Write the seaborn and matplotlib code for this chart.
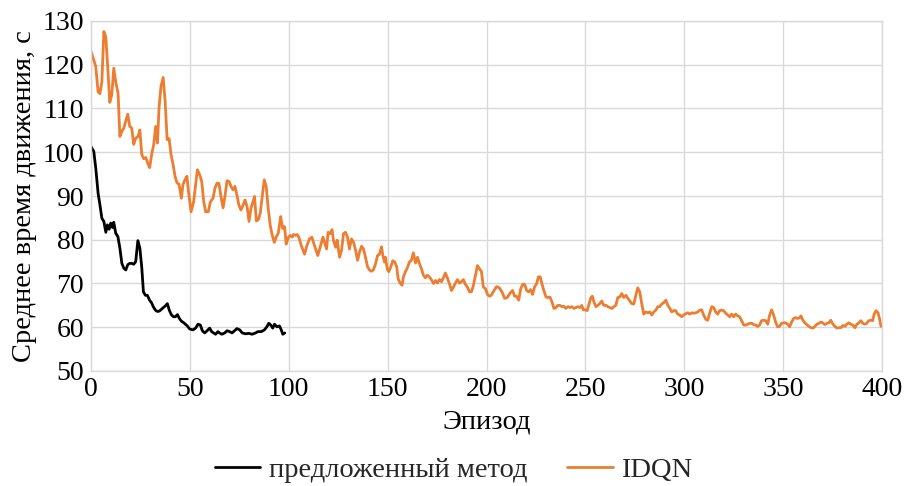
import matplotlib
matplotlib.use("Agg")
import matplotlib.pyplot as plt
import pandas as pd
import seaborn as sns

# ---------------- data ----------------
idqn_ep = [
    0, 2.4, 3.6, 4.5, 5.5, 6.5, 7.5, 8.7, 9.5, 10.5,
    11.5, 12.5, 13.7, 14.6, 15.6, 16.6, 17.6, 18.6, 19.6, 20.6,
    21.6, 22.6, 23.8, 24.7, 25.7, 26.7, 27.7, 28.7, 29.7, 30.7,
    31.7, 32.7, 33.6, 34.4, 35.4, 36.5, 37.5, 38.5, 39.5, 40.5,
    41.5, 42.5, 43.5, 44.5, 45.7, 46.5, 47.5, 48.5, 49.3, 50.6,
    51.9, 52.9, 53.8, 55, 56, 57, 58, 59.3, 60.4, 61.7,
    62.7, 63.7, 64.7, 65.7, 66.8, 67.8, 68.8, 69.8, 70.8, 71.8,
    72.8, 73.8, 74.8, 75.8, 76.9, 77.9, 78.9, 79.9, 80.9, 81.9,
    82.7, 83.6, 84.6, 85.6, 86.6, 87.6, 88.6, 89.6, 90.6, 91.6,
    92.7, 93.7, 94.7, 95.9, 96.9, 97.9, 98.7, 99.7, 100.8, 101.8,
    102.4, 103.5, 104.3, 105.1, 106.3, 108.0, 109.2, 110.5, 111.7, 113.0,
    114.7, 116.1, 117.3, 118.1, 119.1, 119.9, 120.9, 121.9, 122.6, 123.7,
    124.5, 125.7, 126.7, 127.7, 128.7, 129.7, 130.7, 131.7, 132.8, 133.8,
    134.8, 135.8, 136.8, 137.8, 138.8, 139.8, 140.8, 141.8, 142.8, 143.9,
    144.9, 145.9, 146.9, 147.6, 148.4, 148.9, 149.8, 150.6, 151.6, 152.6,
    153.6, 154.6, 155.3, 156.3, 157.3, 158.0, 159.0, 160.0, 161.0, 162.0,
    163.0, 164.1, 165.1, 166.1, 167.1, 168.1, 169.1, 170.1, 171.1, 172.1,
    173.2, 174.2, 175.2, 176.2, 177.2, 178.2, 179.2, 180.2, 181.2, 182.3,
    183.3, 184.3, 185.3, 186.3, 187.3, 188.3, 189.3, 190.3, 191.4, 192.4,
    193.4, 194.4, 195.4, 196.4, 197.4, 198.4, 199.5, 200.5, 201.5, 202.4,
    203.8, 205.1, 206.5, 207.8, 209.2, 210.5, 211.9, 213.2, 214.2, 215.2,
    216.3, 217.3, 218.3, 219.3, 220.3, 221.3, 222.3, 223.3, 224.3, 225.4,
    226.2, 227.2, 228.0, 229.0, 230.1, 231.1, 232.1, 233.1, 234.1, 235.1,
    236.1, 237.1, 238.1, 239.1, 240.1, 241.2, 242.2, 243.2, 244.2, 245.2,
    246.2, 247.2, 248.2, 248.9, 249.9, 250.9, 251.9, 252.8, 253.5, 254.3,
    255.3, 256.3, 257.3, 258.3, 259.3, 260.4, 261.4, 262.4, 263.4, 264.4,
    265.4, 266.4, 267.4, 268.4, 269.4, 270.5, 271.5, 272.5, 273.5, 274.5,
    275.5, 276.5, 277.5, 278.5, 279.5, 280.6, 281.6, 282.6, 283.6, 284.6,
    285.6, 286.6, 287.6, 288.6, 289.6, 290.7, 291.7, 292.7, 293.7, 294.7,
    295.7, 296.7, 297.7, 298.7, 299.7, 300.8, 301.8, 302.8, 303.8, 304.8,
    305.8, 306.8, 307.8, 308.8, 309.8, 310.9, 311.9, 312.9, 313.9, 314.9,
    315.9, 316.9, 317.9, 318.9, 319.9, 321.0, 322.0, 323.0, 324.0, 325.0,
    326.0, 327.0, 328.0, 329.0, 330.1, 331.1, 332.1, 333.1, 334.1, 335.1,
    336.1, 337.1, 338.1, 339.1, 340.1, 341.2, 342.2, 343.2, 344.2, 345.2,
    346.2, 347.2, 348.2, 349.2, 350.3, 351.3, 352.3, 353.3, 354.3, 355.3,
    356.3, 357.3, 358.3, 359.0, 360.0, 361.0, 362.0, 363.0, 364.1, 365.1,
    366.1, 367.1, 368.1, 369.1, 370.1, 371.1, 372.1, 373.1, 374.1, 375.2,
    376.2, 377.2, 378.2, 379.2, 380.2, 381.2, 382.2, 383.2, 384.2, 385.3,
    386.3, 387.3, 388.3, 389.3, 390.3, 391.3, 392.3, 393.3, 394.3, 395.3,
    396.0, 397.0, 398.0, 398.7, 399.5,
]
idqn_val = [
    123.1, 119.6, 113.8, 113.4, 116.1, 127.6, 126.4, 117.7, 111.4, 113.1,
    119.2, 116.1, 113.4, 103.6, 104.8, 105.5, 107.2, 108.7, 105.9, 105.5,
    101.8, 103.2, 103.6, 105.1, 99.4, 98.5, 98.8, 97.5, 96.5, 99.6,
    101.7, 105.9, 102.1, 110.1, 115.1, 117.1, 111.6, 102.9, 103.1, 99.4,
    97.2, 94.5, 93.0, 92.7, 89.5, 92.6, 93.7, 94.5, 91.0, 86.4,
    88.7, 92.6, 96.0, 94.8, 93.3, 88.7, 86.4, 86.4, 88.7, 89.5,
    91.8, 92.9, 92.9, 89.9, 87.3, 90.2, 93.5, 93.3, 92.2, 91.4,
    92.2, 90.2, 87.9, 86.8, 87.9, 89.1, 87.6, 84.2, 87.2, 88.7,
    89.9, 84.3, 84.6, 86.1, 89.9, 93.7, 92.2, 87.2, 83.4, 81.1,
    79.4, 80.7, 81.5, 85.3, 82.6, 83.0, 79.0, 80.5, 81.0, 80.6,
    81.2, 81.0, 81.2, 80.6, 78.7, 76.7, 78.7, 80.2, 80.6, 78.7,
    76.4, 78.7, 80.6, 79.4, 77.9, 81.7, 81.4, 82.3, 79.9, 78.3,
    79.9, 76.0, 77.6, 81.4, 81.7, 80.6, 77.9, 80.2, 79.4, 77.6,
    75.3, 77.2, 78.5, 77.9, 76.0, 73.9, 73.1, 72.8, 73.1, 74.5,
    76.4, 76.7, 78.4, 76.4, 74.9, 76.0, 73.3, 72.7, 73.8, 75.2,
    74.9, 73.8, 71.1, 70.1, 69.6, 71.5, 72.7, 73.6, 74.9, 75.3,
    77.0, 74.7, 76.0, 74.5, 73.4, 71.9, 71.3, 71.9, 71.5, 70.9,
    70.0, 70.7, 70.1, 70.9, 70.4, 71.3, 72.4, 71.3, 70.0, 68.4,
    69.2, 70.1, 70.9, 70.1, 70.4, 70.9, 69.8, 69.2, 68.1, 68.1,
    69.6, 71.9, 74.1, 73.4, 72.8, 69.2, 68.8, 67.5, 67.1, 67.3,
    68.4, 69.3, 69.0, 68.1, 66.6, 66.8, 67.8, 68.4, 67.1, 67.1,
    66.2, 68.8, 69.8, 69.8, 68.4, 68.1, 68.6, 67.5, 69.2, 70.0,
    71.5, 71.5, 70.0, 68.4, 66.9, 66.8, 66.9, 65.8, 64.3, 64.5,
    65.0, 65.0, 64.7, 64.8, 64.3, 64.7, 64.5, 64.7, 64.3, 64.5,
    64.7, 64.5, 65.0, 64.0, 64.0, 63.8, 65.4, 66.8, 67.1, 65.8,
    64.7, 65.0, 65.4, 66.0, 65.0, 65.0, 64.7, 64.5, 64.3, 64.7,
    65.0, 66.8, 66.9, 67.7, 66.8, 67.3, 66.6, 66.0, 65.4, 65.3,
    67.3, 69.0, 68.1, 65.4, 63.0, 63.5, 63.3, 63.5, 62.8, 63.5,
    63.9, 64.7, 64.7, 65.3, 65.6, 66.2, 65.0, 64.3, 63.5, 63.8,
    63.8, 63.0, 62.8, 62.4, 62.8, 63.1, 63.3, 63.0, 63.3, 63.2,
    63.3, 63.5, 63.9, 64.0, 62.8, 61.8, 61.6, 63.3, 64.7, 64.5,
    63.5, 63.0, 63.8, 63.9, 63.8, 63.2, 62.8, 62.4, 63.0, 62.4,
    63.0, 62.6, 62.4, 61.5, 60.5, 60.5, 60.7, 60.9, 60.9, 60.6,
    60.5, 60.2, 60.5, 61.5, 61.6, 61.5, 60.7, 62.8, 64.0, 62.8,
    61.2, 60.1, 60.2, 60.9, 61.0, 61.0, 60.7, 60.1, 61.2, 62.0,
    62.2, 62.0, 62.2, 62.6, 61.6, 61.0, 60.6, 60.2, 59.9, 59.8,
    60.2, 60.7, 60.9, 61.2, 61.0, 60.6, 60.9, 61.0, 61.6, 60.7,
    60.2, 59.8, 59.9, 59.9, 60.4, 60.2, 60.7, 61.0, 60.7, 60.5,
    59.9, 60.7, 61.0, 61.5, 60.9, 60.7, 60.9, 61.5, 61.6, 61.5,
    63.0, 63.8, 63.3, 62.0, 60.2,
]

ours_ep = [
    0, 1.4, 2.4, 3.6, 4.5, 5.5, 6.5, 7.5, 8.3, 9.2,
    10.0, 10.9, 11.5, 12.5, 13.6, 14.6, 15.6, 16.6, 17.6, 18.6,
    19.6, 20.6, 21.6, 22.6, 23.7, 24.7, 25.7, 26.5, 27.5, 28.5,
    29.6, 30.6, 31.6, 32.6, 33.6, 34.6, 35.6, 36.6, 37.6, 38.6,
    39.6, 40.7, 41.7, 42.7, 43.7, 44.7, 45.7, 46.7, 47.7, 48.7,
    49.9, 51.6, 52.9, 54.1, 55.3, 56.3, 57.5, 58.7, 60.0, 61.0,
    62.0, 63.0, 64.2, 65.0, 66.2, 67.6, 68.8, 70.1, 71.3, 72.6,
    73.8, 75.2, 76.5, 78.2, 79.9, 81.5, 83.2, 84.4, 86.1, 87.7,
    88.9, 89.9, 90.9, 91.9, 92.8, 94.0, 95.3, 96.2, 97.0, 98.0,
]
ours_val = [
    101.3, 100.2, 96.4, 90.6, 88.0, 84.9, 84.2, 81.7, 83.4, 82.4,
    83.8, 82.8, 84.0, 81.5, 80.7, 78.1, 74.6, 73.5, 73.1, 74.3,
    74.6, 74.6, 74.4, 75.0, 79.8, 78.1, 73.5, 68.1, 67.3, 67.3,
    66.2, 65.6, 64.6, 63.9, 63.6, 63.7, 64.1, 64.5, 64.9, 65.4,
    63.9, 62.8, 62.4, 62.4, 62.9, 62.0, 61.4, 61.1, 60.7, 60.3,
    59.6, 59.4, 59.8, 60.7, 60.5, 59.2, 58.7, 59.2, 59.8, 59.0,
    58.7, 58.4, 59.0, 58.7, 58.4, 58.7, 59.2, 59.0, 58.7, 59.2,
    59.7, 59.4, 58.7, 58.5, 58.6, 58.4, 58.7, 59.0, 59.0, 59.4,
    60.1, 60.9, 60.5, 59.8, 60.7, 60.1, 60.3, 59.4, 58.4, 58.7,
]

series_names = ["предложенный метод", "IDQN"]
series_colors = ["#000000", "#ED7D31"]
x_ticks = [0, 50, 100, 150, 200, 250, 300, 350, 400]
y_ticks = [50, 60, 70, 80, 90, 100, 110, 120, 130]
x_label = "Эпизод"
y_label = "Среднее время движения, с"

assert len(idqn_ep) == len(idqn_val)
assert len(ours_ep) == len(ours_val)

df = pd.concat([
    pd.DataFrame({"ep": ours_ep, "val": ours_val, "series": series_names[0]}),
    pd.DataFrame({"ep": idqn_ep, "val": idqn_val, "series": series_names[1]}),
], ignore_index=True)

# ---------------- style ----------------
sns.set_theme(style="whitegrid")
plt.rcParams["font.family"] = ["Liberation Serif", "DejaVu Serif"]
grid_c = "#d9d9d9"

fig = plt.figure(figsize=(9.07, 4.86), dpi=100)
ax = fig.add_axes([91 / 907, 1 - 371 / 486, (882 - 91) / 907, (371 - 21) / 486])

sns.lineplot(data=df, x="ep", y="val", hue="series", hue_order=series_names,
             palette=dict(zip(series_names, series_colors)), estimator=None,
             sort=False, linewidth=2.0, ax=ax, legend=True)

ax.set_xlim(0, 400)
ax.set_ylim(50, 130)
ax.set_xticks(x_ticks)
ax.set_yticks(y_ticks)
ax.grid(True, color=grid_c, linewidth=1.0)
for s in ax.spines.values():
    s.set_visible(True)
    s.set_color(grid_c)
    s.set_linewidth(1.0)
ax.tick_params(axis="both", length=0, labelsize=20, colors="black")
ax.tick_params(axis="x", pad=4)
ax.tick_params(axis="y", pad=5)
ax.set_xlabel(x_label, fontsize=20.5, labelpad=6, color="black")
ax.set_ylabel(y_label, fontsize=20.5, labelpad=4, color="black")

handles, labels = ax.get_legend_handles_labels()
ax.get_legend().remove()
fig.legend(handles, labels, loc="center", bbox_to_anchor=(0.5, 1 - 470 / 486),
           ncol=2, frameon=False, fontsize=20.5, handlelength=1.6,
           handletextpad=0.3, columnspacing=1.4)

fig.savefig("out.png", dpi=100)
